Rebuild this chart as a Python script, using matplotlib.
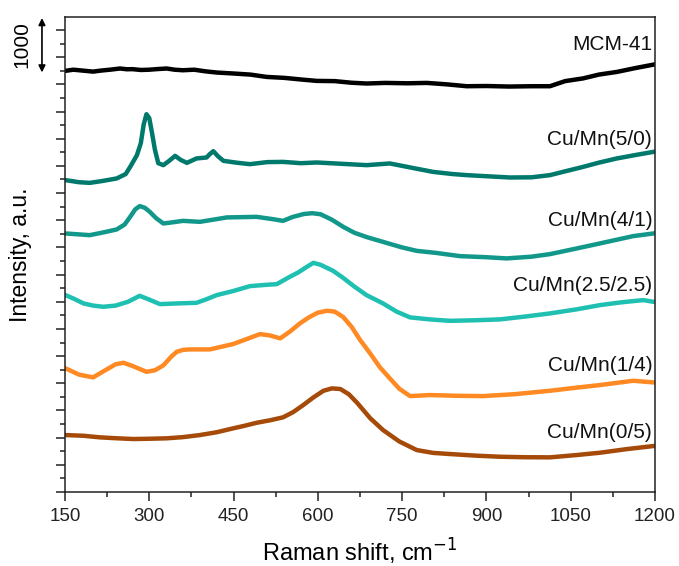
import numpy as np
import matplotlib

matplotlib.use("Agg")
import matplotlib.pyplot as plt
from matplotlib.ticker import MultipleLocator
import matplotlib.transforms as mtransforms

plt.rcParams["font.family"] = ["Liberation Sans", "DejaVu Sans"]

# --------------------------------------------------------------------------- #
# Data (Raman shift in cm-1, intensity in a.u. with vertical offsets)
# --------------------------------------------------------------------------- #
mcm_x = [150, 165, 175, 190, 200, 215, 230, 248, 260, 270, 285, 300, 315, 331,
         345, 360, 380, 400, 420, 450, 480, 509, 540, 570, 598, 630, 660, 687,
         720, 760, 794, 830, 865, 900, 940, 980, 1013, 1040, 1072, 1100, 1132,
         1165, 1198]
mcm_y = [7748, 7770, 7760, 7745, 7735, 7755, 7770, 7792, 7778, 7780, 7765, 7770,
         7782, 7792, 7770, 7760, 7770, 7740, 7718, 7700, 7680, 7637, 7620, 7590,
         7564, 7560, 7530, 7516, 7527, 7520, 7527, 7500, 7466, 7470, 7460, 7466,
         7466, 7560, 7610, 7680, 7729, 7800, 7865]

cu50_x = [151, 175, 194, 215, 242, 258, 266, 278, 285, 290, 295, 300, 305, 310,
          316, 325, 335, 346, 356, 367, 384, 402, 408, 414, 422, 432, 455, 479,
          510, 538, 570, 598, 640, 687, 728, 770, 805, 840, 865, 900, 942, 980,
          1013, 1040, 1072, 1100, 1132, 1165, 1197]
cu50_y = [5738, 5700, 5688, 5720, 5769, 5850, 5982, 6197, 6420, 6760, 6951,
          6880, 6600, 6300, 6050, 6014, 6090, 6185, 6110, 6056, 6137, 6155, 6220,
          6271, 6180, 6093, 6060, 6032, 6070, 6074, 6050, 6063, 6040, 6014, 6045,
          5960, 5890, 5850, 5830, 5810, 5787, 5790, 5830, 5900, 5982, 6060, 6137,
          6200, 6258]

cu41_x = [151, 175, 194, 220, 242, 256, 266, 275, 283, 292, 301, 312, 325, 340,
          360, 390, 438, 491, 520, 538, 555, 575, 590, 605, 625, 645, 665, 687,
          720, 750, 776, 810, 853, 900, 936, 980, 1013, 1060, 1102, 1161, 1197]
cu41_y = [4757, 4740, 4726, 4780, 4831, 4920, 5063, 5200, 5260, 5230, 5155,
          5040, 4941, 4960, 4989, 4971, 5052, 5063, 5020, 4989, 5060, 5115, 5130,
          5110, 5010, 4880, 4770, 4690, 4590, 4500, 4437, 4400, 4340, 4320, 4298,
          4330, 4377, 4480, 4574, 4708, 4757]

cu25_x = [151, 165, 183, 200, 218, 240, 262, 283, 300, 319, 350, 384, 400, 420,
          450, 479, 505, 527, 550, 565, 580, 592, 605, 627, 645, 665, 687, 716,
          740, 764, 800, 835, 880, 924, 970, 1013, 1060, 1102, 1140, 1179, 1197]
cu25_y = [3623, 3560, 3470, 3430, 3408, 3430, 3500, 3610, 3540, 3457, 3470,
          3481, 3540, 3623, 3700, 3788, 3810, 3825, 3959, 4040, 4140, 4217, 4180,
          4070, 3940, 3780, 3620, 3470, 3320, 3213, 3175, 3150, 3160, 3176, 3230,
          3286, 3360, 3439, 3490, 3531, 3500]

cu14_x = [151, 175, 200, 220, 240, 254, 270, 295, 310, 325, 340, 349, 360, 372,
          408, 449, 475, 497, 515, 533, 550, 568, 585, 600, 616, 630, 645, 660,
          675, 693, 710, 728, 745, 764, 799, 850, 894, 950, 1013, 1060, 1102,
          1161, 1197]
cu14_y = [2275, 2160, 2109, 2230, 2350, 2378, 2320, 2212, 2240, 2330, 2500,
          2580, 2615, 2624, 2624, 2722, 2820, 2906, 2880, 2827, 2950, 3102, 3220,
          3300, 3334, 3320, 3220, 3040, 2800, 2551, 2300, 2091, 1900, 1765, 1784,
          1770, 1765, 1800, 1863, 1920, 1968, 2047, 2017]

cu05_x = [151, 183, 212, 240, 272, 300, 331, 360, 390, 420, 449, 470, 491, 515,
          538, 556, 574, 592, 610, 625, 640, 655, 670, 693, 716, 745, 776, 805,
          835, 880, 924, 970, 1013, 1060, 1102, 1150, 1197]
cu05_y = [1048, 1035, 1006, 990, 975, 980, 988, 1010, 1048, 1100, 1171, 1220,
          1274, 1320, 1374, 1470, 1600, 1740, 1863, 1907, 1895, 1800, 1640, 1360,
          1140, 930, 772, 720, 699, 670, 649, 640, 638, 680, 723, 790, 846]

series = [
    ("MCM-41", mcm_x, mcm_y, "#000000", 8239),
    ("Cu/Mn(5/0)", cu50_x, cu50_y, "#00796d", 6492),
    ("Cu/Mn(4/1)", cu41_x, cu41_y, "#12988b", 5002),
    ("Cu/Mn(2.5/2.5)", cu25_x, cu25_y, "#1fc0b2", 3807),
    ("Cu/Mn(1/4)", cu14_x, cu14_y, "#ff8a24", 2335),
    ("Cu/Mn(0/5)", cu05_x, cu05_y, "#a54a08", 1103),
]

# --------------------------------------------------------------------------- #
# Plot
# --------------------------------------------------------------------------- #
fig = plt.figure(figsize=(6.79, 5.66), dpi=100)
ax = fig.add_axes([0.0957, 0.1307, 0.869, 0.8393])

for name, xs, ys, color, label_y in series:
    ax.plot(xs, ys, color=color, lw=3.2, solid_joinstyle="round")
    ax.text(1195, label_y, name, ha="right", va="center", fontsize=15,
            color="#111111")

ax.set_xlim(150, 1200)
ax.set_ylim(0, 8740)
ax.xaxis.set_major_locator(MultipleLocator(150))
ax.xaxis.set_minor_locator(MultipleLocator(75))
ax.yaxis.set_major_locator(MultipleLocator(500))
ax.yaxis.set_minor_locator(MultipleLocator(250))
ax.tick_params(which="major", direction="out", length=6.5, width=1.1,
               labelsize=13.5, colors="#222222", pad=5)
ax.tick_params(which="minor", direction="out", length=3.5, width=1.1,
               colors="#222222")
ax.tick_params(axis="y", which="both", labelleft=False)
for sp in ax.spines.values():
    sp.set_linewidth(1.1)
    sp.set_color("#222222")

ax.set_xlabel("Raman shift, cm$^{-1}$", fontsize=17)
ax.xaxis.set_label_coords(0.5, -0.095)
ax.set_ylabel("Intensity, a.u.", fontsize=16.5)
ax.yaxis.set_label_coords(-0.056, 0.5)

# scale bar arrow
trans = mtransforms.blended_transform_factory(ax.transAxes, ax.transData)
ax.annotate("", xy=(-0.039, 8720), xytext=(-0.039, 7720), xycoords=trans,
            textcoords=trans, annotation_clip=False,
            arrowprops=dict(arrowstyle="<|-|>", color="black", lw=1.2,
                            mutation_scale=10, shrinkA=0, shrinkB=0))
ax.text(-0.073, 8230, "1000", transform=trans, rotation=90, ha="center",
        va="center", fontsize=15)

fig.savefig("out.png", dpi=100)
